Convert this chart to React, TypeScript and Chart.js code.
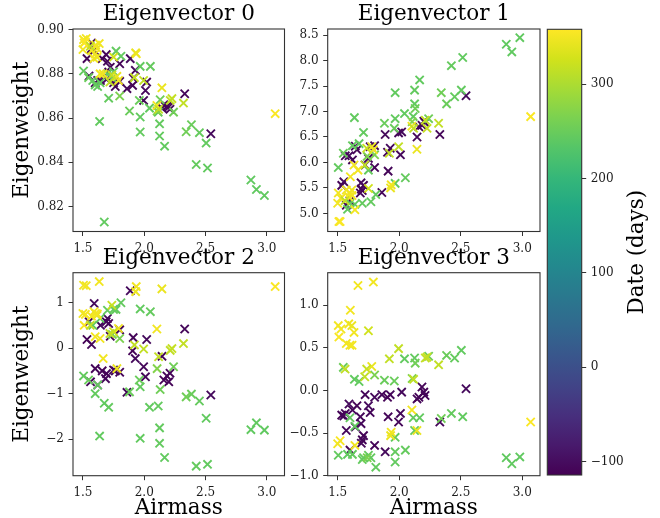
import { useEffect, useRef } from "react";
import { Chart, registerables } from "chart.js";

Chart.register(...registerables);

// One entry per observation: purple epoch first, then the green and yellow epochs.
const airmass = [
  2.543, 2.33, 2.2, 2.185, 2.21, 2.145, 2.16, 2.02, 2.01, 1.995,
  1.927, 1.91, 1.905, 1.886, 1.859, 1.8, 1.8, 1.764, 1.75, 1.723,
  1.71, 1.7, 1.69, 1.692, 1.684, 1.657, 1.643, 1.62, 1.6, 1.592,
  1.57, 1.562, 1.55, 1.533,
  2.87, 2.915, 2.98, 2.505, 2.516, 2.45, 2.424, 2.385, 2.342, 2.239,
  2.166, 2.125, 2.125, 2.13, 2.114, 2.105, 2.043, 2.05, 1.967, 1.967,
  1.967, 1.96, 1.88, 1.81, 1.8, 1.77, 1.71, 1.636, 1.674, 1.62,
  1.546, 1.505, 1.58, 1.6, 1.64, 1.7, 1.75, 1.74,
  3.068, 2.144, 2.32, 2.226, 2.212, 2.103, 2.117, 1.935, 1.93, 1.995,
  1.92, 1.777, 1.79, 1.75, 1.72, 1.665, 1.64, 1.633, 1.603, 1.59,
  1.615, 1.6, 1.57, 1.505, 1.527, 1.51, 1.52, 1.5, 1.56, 1.617,
  1.736,
];

const dateDays = [
  -104, -106, -109, -109, -108, -107, -110, -103, -105, -106,
  -104, -108, -110, -102, -107, -105, -109, -106, -104, -108,
  -110, -107, -105, -108, -106, -110, -103, -107, -109, -104,
  -106, -108, -105, -110,
  243, 243, 243, 244, 244, 246, 246, 250, 255, 255,
  244, 245, 245, 255, 245, 270, 244, 246, 244, 244,
  245, 250, 250, 245, 265, 245, 245, 244, 244, 245,
  250, 245, 244, 245, 244, 245, 246, 265,
  356, 345, 315, 318, 315, 350, 315, 350, 345, 315,
  315, 345, 350, 325, 315, 350, 350, 350, 350, 350,
  345, 350, 350, 350, 350, 355, 355, 350, 315, 350,
  320,
];

const weight0 = [
  0.8529, 0.871, 0.865, 0.8653, 0.864, 0.8645, 0.866, 0.8763, 0.8725, 0.868,
  0.8816, 0.878, 0.8748, 0.8869, 0.8733, 0.8766, 0.8846, 0.8743, 0.876, 0.883,
  0.8808, 0.8857, 0.8887, 0.8775, 0.879, 0.8869, 0.877, 0.877, 0.876, 0.8906,
  0.894, 0.891, 0.879, 0.8869,
  0.832, 0.8277, 0.825, 0.8487, 0.8374, 0.8534, 0.839, 0.857, 0.8538, 0.8627,
  0.8473, 0.8574, 0.8519, 0.8683, 0.8627, 0.8632, 0.8645, 0.8834, 0.8834, 0.8605,
  0.8537, 0.868, 0.8632, 0.888, 0.87, 0.8903, 0.869, 0.8585, 0.813, 0.8743,
  0.8783, 0.8813, 0.877, 0.875, 0.876, 0.88, 0.881, 0.878,
  0.862, 0.8737, 0.8668, 0.8688, 0.868, 0.8657, 0.864, 0.8891, 0.8895, 0.877,
  0.8783, 0.8789, 0.877, 0.8876, 0.8763, 0.88, 0.88, 0.8937, 0.893, 0.887,
  0.8875, 0.889, 0.8905, 0.8955, 0.896, 0.894, 0.8945, 0.891, 0.8925, 0.8915,
  0.8795,
];

const weight1 = [
  7.31, 6.55, 6.81, 6.73, 6.78, 6.5, 6.7, 6.6, 6.15, 6.58,
  6.28, 5.83, 6.2, 6.55, 5.41, 6.33, 5.9, 6.31, 6.08, 5.95,
  5.55, 5.45, 5.6, 5.48, 5.4, 6.25, 6.32, 6.05, 5.25, 6.13,
  5.16, 6.13, 5.62, 5.55,
  8.32, 8.17, 8.45, 7.42, 8.06, 7.29, 7.9, 7.15, 7.37, 6.86,
  7.62, 7.42, 7.15, 7.06, 6.9, 6.8, 6.96, 5.7, 5.59, 7.37,
  6.86, 6.67, 6.77, 5.37, 6.15, 5.23, 6.59, 6.88, 6.37, 6.33,
  6.18, 5.9, 5.08, 5.2, 5.18, 5.2, 5.85, 6.12,
  6.9, 6.26, 6.77, 6.67, 6.83, 6.71, 6.67, 5.56, 5.5, 6.31,
  6.18, 6.31, 6.25, 5.49, 5.95, 5.85, 5.07, 5.95, 5.72, 5.33,
  5.46, 5.4, 5.46, 5.4, 5.3, 4.84, 4.84, 5.2, 5.25, 5.35,
  6.28,
];

const weight2 = [
  -1.03, 0.42, -0.74, -0.61, -0.55, -0.18, -0.7, 0.19, -0.63, -0.41,
  -0.23, 0.23, -0.06, 1.26, -0.97, 0.4, -0.53, -0.5, -0.48, 0.26,
  0.54, 0.65, 0.58, -0.56, -0.67, -0.5, 0.5, -0.81, -0.45, 0.98,
  0.08, -0.74, 0.58, 0.19,
  -1.79, -1.64, -1.8, -1.54, -2.55, -1.16, -2.59, -1.01, -1.07, -0.41,
  -2.4, -1.75, -2.09, -0.91, -1.27, -0.45, -1.3, 0.8, 0.86, -1.98,
  -0.85, -0.7, -0.96, 0.995, 0.21, 0.85, -1.3, -1.93, -1.21, -0.81,
  -0.7, -0.61, 0.5, -1.0, 0.65, 0.83, 0.85, 0.3,
  1.35, 1.3, 0.1, -0.01, -0.05, 0.42, -0.19, 1.35, 1.24, -0.02,
  0.07, -0.45, 0.43, 0.36, 0.32, -0.23, 0.21, 1.46, 0.76, 0.8,
  0.72, 0.25, 0.7, 1.38, 1.37, 0.5, 0.74, 0.76, 0.5, 0.75,
  0.94,
];

const weight3 = [
  0.02, -0.37, -0.02, 0.04, -0.06, -0.1, -0.08, -0.02, -0.27, -0.37,
  -0.05, -0.31, -0.08, -0.72, -0.05, -0.08, -0.645, -0.26, -0.18, -0.05,
  -0.53, -0.58, -0.39, -0.62, -0.31, -0.18, -0.43, -0.23, -0.7, -0.16,
  -0.47, -0.27, -0.3, -0.29,
  -0.79, -0.86, -0.78, 0.47, -0.31, 0.38, -0.27, 0.41, -0.33, 0.4,
  -0.32, 0.38, -0.47, 0.32, -0.32, 0.14, 0.37, -0.7, -0.55, -0.84,
  -0.72, 0.11, 0.12, -0.9, 0.18, -0.79, -0.79, 0.13, 0.105, -0.75,
  0.27, -0.76, -0.75, -0.32, -0.42, -0.81, -0.76, -0.79,
  -0.37, -0.47, 0.3, 0.39, 0.38, -0.23, 0.13, -0.49, -0.53, 0.49,
  0.37, 0.28, 1.27, 0.7, 0.16, 1.23, -0.645, 0.68, 0.94, 0.78,
  0.76, 0.53, 0.55, 0.76, 0.72, 0.625, -0.59, -0.625, 0.25, 0.53,
  0.25,
];

const panelTitles = ["Eigenvector 0", "Eigenvector 1", "Eigenvector 2", "Eigenvector 3"];
const airmassTicks = [1.5, 2.0, 2.5, 3.0];
const weightTicks0 = [0.82, 0.84, 0.86, 0.88, 0.9];
const weightTicks1 = [5.0, 5.5, 6.0, 6.5, 7.0, 7.5, 8.0, 8.5];
const weightTicks2 = [-2, -1, 0, 1];
const weightTicks3 = [-1.0, -0.5, 0.0, 0.5, 1.0];
const dateTicks = [-100, 0, 100, 200, 300];

const AIRMASS_RANGE: [number, number] = [1.419, 3.144];
const DATE_RANGE: [number, number] = [-114, 358];

const FONT = '"DejaVu Serif", serif';
const INK = "#000000";
const TICK_INK = "#1c1c1c";
const AXIS = "#333333";
const LABEL_SIZE = 21.5;
const TICK_SIZE = 12;

// viridis, sampled at 16 evenly spaced positions
const VIRIDIS = [
  "#440154", "#481a6c", "#472f7d", "#414487", "#39568c", "#31688e", "#2a788e", "#23888e",
  "#1f988b", "#22a884", "#35b779", "#54c568", "#7ad151", "#a5db36", "#d2e21b", "#fde725",
];

function hexToRgb(h: string): number[] {
  return [1, 3, 5].map((i) => parseInt(h.slice(i, i + 2), 16));
}

function viridis(t: number): string {
  const c = Math.min(1, Math.max(0, t)) * (VIRIDIS.length - 1);
  const i = Math.min(VIRIDIS.length - 2, Math.floor(c));
  const f = c - i;
  const a = hexToRgb(VIRIDIS[i]);
  const b = hexToRgb(VIRIDIS[i + 1]);
  const m = a.map((v, k) => Math.round(v + (b[k] - v) * f));
  return `rgb(${m[0]},${m[1]},${m[2]})`;
}

function dateColor(d: number): string {
  return viridis((d - DATE_RANGE[0]) / (DATE_RANGE[1] - DATE_RANGE[0]));
}

function fmtTick(v: number, digits: number): string {
  const s = (Math.abs(v) < 1e-9 ? 0 : v).toFixed(digits);
  return s.replace("-", "\u2212");
}

// Full rectangular frame around the plotting area (all four spines).
const framePlugin = {
  id: "frame",
  afterDatasetsDraw(chart: any) {
    const { ctx, chartArea: a } = chart;
    ctx.save();
    ctx.strokeStyle = AXIS;
    ctx.lineWidth = 1.1;
    ctx.strokeRect(a.left, a.top, a.right - a.left, a.bottom - a.top);
    ctx.restore();
  },
};

type PanelSpec = {
  title: string;
  weights: number[];
  yRange: [number, number];
  yTicks: number[];
  digits: number;
  box: [number, number, number, number]; // canvas left, top, width, height
  area: [number, number, number, number]; // plot area left, top, right, bottom
  yLabel: boolean;
  xLabel: boolean;
};

const panels: PanelSpec[] = [
  {
    title: panelTitles[0], weights: weight0, yRange: [0.8087, 0.9003], yTicks: weightTicks0, digits: 2,
    box: [0, 0, 300, 262], area: [73, 29, 284.5, 231.5], yLabel: true, xLabel: false,
  },
  {
    title: panelTitles[1], weights: weight1, yRange: [4.645, 8.62], yTicks: weightTicks1, digits: 1,
    box: [290, 0, 260, 262], area: [327.7, 29, 540, 231.5], yLabel: false, xLabel: false,
  },
  {
    title: panelTitles[2], weights: weight2, yRange: [-2.8, 1.655], yTicks: weightTicks2, digits: 0,
    box: [0, 243, 300, 287], area: [73, 272.7, 284.5, 475.7], yLabel: true, xLabel: true,
  },
  {
    title: panelTitles[3], weights: weight3, yRange: [-1.0, 1.38], yTicks: weightTicks3, digits: 1,
    box: [290, 243, 260, 287], area: [327.7, 272.7, 540, 475.7], yLabel: false, xLabel: true,
  },
];

const COLORBAR_BOX: [number, number, number, number] = [540, 0, 120, 518];
const COLORBAR_AREA: [number, number, number, number] = [547.3, 29.3, 581.7, 475];

function tickGrid() {
  return { display: true, drawOnChartArea: false, drawTicks: true, tickLength: 4.5, color: AXIS, lineWidth: 1 };
}

function panelConfig(spec: PanelSpec): any {
  const [cx, cy, cw, ch] = spec.box;
  const [L, T, R, B] = spec.area;
  const lineH = LABEL_SIZE * 1.2;
  const titleTop = T - 14.2 - cy - lineH / 2;
  const titleBottom = T - cy - lineH - titleTop;
  const colors = dateDays.map(dateColor);
  return {
    type: "scatter",
    data: {
      datasets: [
        {
          data: airmass.map((x, i) => ({ x, y: spec.weights[i] })),
          pointStyle: "crossRot",
          pointRadius: 5.8,
          pointHoverRadius: 5.8,
          pointBorderWidth: 1.9,
          pointBorderColor: colors,
          pointBackgroundColor: colors,
          showLine: false,
          clip: 0,
        },
      ],
    },
    options: {
      animation: false,
      responsive: false,
      devicePixelRatio: 1,
      events: [],
      layout: { padding: { left: 0, top: 0, right: cx + cw - R, bottom: 0 } },
      plugins: {
        legend: { display: false },
        tooltip: { enabled: false },
        title: {
          display: true,
          text: spec.title,
          fullSize: false,
          color: INK,
          font: { family: FONT, size: LABEL_SIZE, weight: "normal", lineHeight: 1.2 },
          padding: { top: titleTop, bottom: titleBottom },
        },
      },
      scales: {
        x: {
          type: "linear",
          min: AIRMASS_RANGE[0],
          max: AIRMASS_RANGE[1],
          afterBuildTicks: (s: any) => {
            s.ticks = airmassTicks.map((v) => ({ value: v }));
          },
          afterFit: (s: any) => {
            s.height = cy + ch - B;
          },
          ticks: {
            color: TICK_INK,
            font: { family: FONT, size: TICK_SIZE },
            padding: 5.5,
            maxRotation: 0,
            autoSkip: false,
            callback: (v: any) => fmtTick(Number(v), 1),
          },
          grid: tickGrid(),
          border: { display: false },
          title: {
            display: spec.xLabel,
            text: "Airmass",
            color: INK,
            font: { family: FONT, size: LABEL_SIZE, lineHeight: 1.2 },
            padding: { top: 0, bottom: cy + ch - lineH / 2 - 508.6 },
          },
        },
        y: {
          type: "linear",
          min: spec.yRange[0],
          max: spec.yRange[1],
          afterBuildTicks: (s: any) => {
            s.ticks = spec.yTicks.map((v) => ({ value: v }));
          },
          afterFit: (s: any) => {
            s.width = L - cx;
          },
          ticks: {
            color: TICK_INK,
            font: { family: FONT, size: TICK_SIZE },
            padding: 4.5,
            autoSkip: false,
            callback: (v: any) => fmtTick(Number(v), spec.digits),
          },
          grid: tickGrid(),
          border: { display: false },
          title: {
            display: spec.yLabel,
            text: "Eigenweight",
            color: INK,
            font: { family: FONT, size: LABEL_SIZE, lineHeight: 1.2 },
            padding: { top: 22 - cx - lineH / 2, bottom: 0 },
          },
        },
      },
    },
    plugins: [framePlugin],
  };
}

// Vertical viridis strip spanning the date range.
const gradientPlugin = {
  id: "viridisStrip",
  beforeDatasetsDraw(chart: any) {
    const { ctx, chartArea: a, scales } = chart;
    const y = scales.y;
    const g = ctx.createLinearGradient(0, y.getPixelForValue(DATE_RANGE[0]), 0, y.getPixelForValue(DATE_RANGE[1]));
    VIRIDIS.forEach((c, i) => g.addColorStop(i / (VIRIDIS.length - 1), c));
    ctx.save();
    ctx.fillStyle = g;
    ctx.fillRect(a.left, a.top, a.right - a.left, a.bottom - a.top);
    ctx.restore();
  },
};

// Colour-bar caption, reading bottom to top.
const captionPlugin = {
  id: "colorbarCaption",
  afterDraw(chart: any) {
    const { ctx, chartArea: a } = chart;
    ctx.save();
    ctx.translate(a.right + 56, (a.top + a.bottom) / 2);
    ctx.rotate(-Math.PI / 2);
    ctx.font = `${LABEL_SIZE}px ${FONT}`;
    ctx.fillStyle = INK;
    ctx.textAlign = "center";
    ctx.textBaseline = "middle";
    ctx.fillText("Date (days)", 0, 0);
    ctx.restore();
  },
};

function colorbarConfig(): any {
  const [cx, cy, cw, ch] = COLORBAR_BOX;
  const [L, T, R, B] = COLORBAR_AREA;
  return {
    type: "scatter",
    data: { datasets: [] },
    options: {
      animation: false,
      responsive: false,
      devicePixelRatio: 1,
      events: [],
      layout: { padding: { left: L - cx, top: T - cy, right: 0, bottom: cy + ch - B } },
      plugins: { legend: { display: false }, tooltip: { enabled: false } },
      scales: {
        x: { display: false, min: 0, max: 1 },
        y: {
          type: "linear",
          position: "right",
          min: DATE_RANGE[0],
          max: DATE_RANGE[1],
          afterBuildTicks: (s: any) => {
            s.ticks = dateTicks.map((v) => ({ value: v }));
          },
          afterFit: (s: any) => {
            s.width = cx + cw - R;
          },
          ticks: {
            color: TICK_INK,
            font: { family: FONT, size: TICK_SIZE },
            padding: 4.5,
            autoSkip: false,
            callback: (v: any) => fmtTick(Number(v), 0),
          },
          grid: tickGrid(),
          border: { display: false },
        },
      },
    },
    plugins: [gradientPlugin, framePlugin, captionPlugin],
  };
}

export default function App() {
  const refs = useRef<(HTMLCanvasElement | null)[]>([]);

  useEffect(() => {
    const charts: Chart[] = [];
    panels.forEach((p, i) => {
      const c = refs.current[i];
      if (c) charts.push(new Chart(c, panelConfig(p)));
    });
    const cb = refs.current[panels.length];
    if (cb) charts.push(new Chart(cb, colorbarConfig()));
    return () => charts.forEach((c) => c.destroy());
  }, []);

  const boxes = [...panels.map((p) => p.box), COLORBAR_BOX];

  return (
    <div
      style={{
        position: "absolute",
        left: 0,
        top: 0,
        width: 660,
        height: 518,
        overflow: "hidden",
        background: "#ffffff",
      }}
    >
      {boxes.map(([x, y, w, h], i) => (
        <canvas
          key={i}
          ref={(el) => {
            refs.current[i] = el;
          }}
          width={w}
          height={h}
          style={{ position: "absolute", left: x, top: y, width: w, height: h }}
        />
      ))}
    </div>
  );
}
